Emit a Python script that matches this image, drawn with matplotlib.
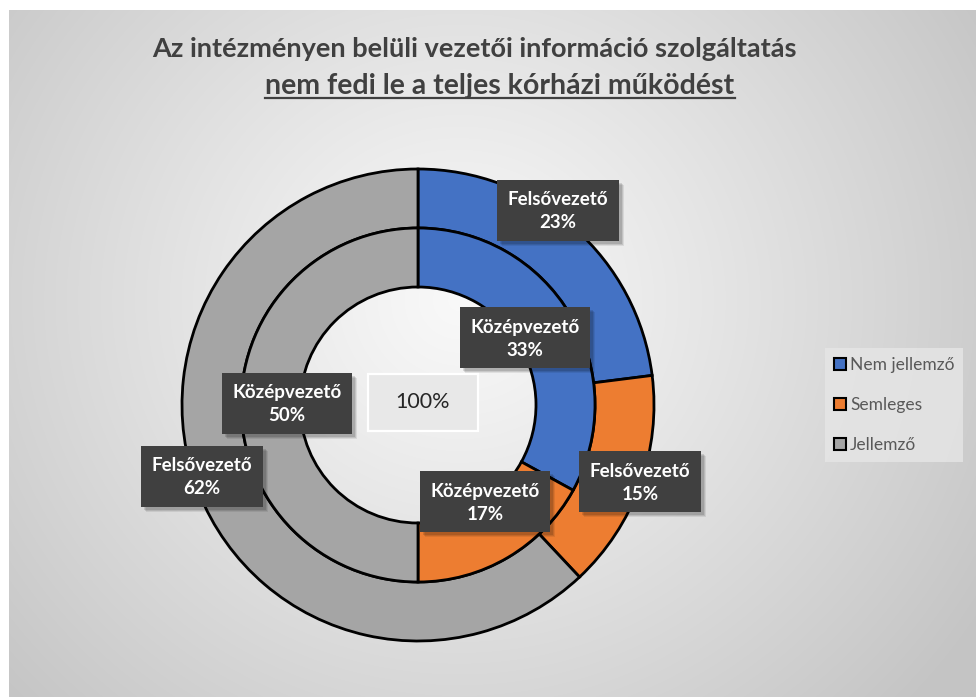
import numpy as np
import matplotlib
matplotlib.use("Agg")
import matplotlib.pyplot as plt
from matplotlib.patches import Patch, Rectangle

# ---- data ----
categories = ["Nem jellemző", "Semleges", "Jellemző"]
felso_values = [23, 15, 62]      # outer ring (Felsővezető)
kozep_values = [33, 17, 50]      # inner ring (Középvezető)
outer_name = "Felsővezető"
inner_name = "Középvezető"
center_label = "100%"
title_line1 = "Az intézményen belüli vezetői információ szolgáltatás"
title_line2 = "nem fedi le a teljes kórházi működést"

colors = ["#4472C4", "#ED7D31", "#A5A5A5"]
FONT = "Lato"

W, H = 976, 697
fig = plt.figure(figsize=(W / 100, H / 100), dpi=100)
fig.patch.set_facecolor("white")

# ---- background panel with radial gradient ----
bg = fig.add_axes([9 / W, 0, 1 - 9 / W, 1 - 10 / H])
bg.set_axis_off()
yy, xx = np.mgrid[0:H - 10, 0:W - 9]
d = np.hypot(xx - 450, (yy - 290) * 1.05)
t = np.clip(d / 620, 0, 1) ** 1.1
light, dark = 0.975, 0.77
img = light - (light - dark) * t
bg.imshow(np.dstack([img, img, img]), aspect="auto", interpolation="bilinear")
bg.set_zorder(0)

# ---- donut axes: centre at (418,405)px, outer radius 236px ----
R = 236.0
half = 260.0
cx, cy = 418, 405
ax = fig.add_axes([(cx - half) / W, (H - cy - half) / H, 2 * half / W, 2 * half / H])
ax.set_axis_off()
ax.set_zorder(1)
ax.patch.set_alpha(0)

wp = dict(width=0.25, edgecolor="black", linewidth=2.0)
ax.pie(felso_values, radius=1.0, colors=colors, startangle=90, counterclock=False,
       wedgeprops=wp)
ax.pie(kozep_values, radius=0.75, colors=colors, startangle=90, counterclock=False,
       wedgeprops=wp)
ax.set_xlim(-half / R, half / R)
ax.set_ylim(-half / R, half / R)
ax.set_aspect("equal")

# label positions (layout, in units of outer radius)
outer_pos = [(0.593, 0.826), (0.941, -0.326), (-0.915, -0.301)]
inner_pos = [(0.453, 0.284), (0.284, -0.411), (-0.555, 0.008)]
px = 1.0 / R

def box_label(x, y, txt, wpx):
    w, h = wpx * px, 61 * px
    for k, a in ((5, 0.08), (4, 0.1), (3, 0.12)):
        ax.add_patch(Rectangle((x - w / 2 + k * px, y - h / 2 - k * px), w, h,
                               facecolor=(0, 0, 0, a), edgecolor="none", zorder=4,
                               clip_on=False))
    ax.add_patch(Rectangle((x - w / 2, y - h / 2), w, h,
                           facecolor="#404040", edgecolor="none", zorder=5,
                           clip_on=False))
    ax.text(x, y - 1 * px, txt, ha="center", va="center", fontsize=13.5,
            fontweight="bold", family=FONT, color="white", linespacing=1.45,
            zorder=6)

for (x, y), v in zip(outer_pos, felso_values):
    box_label(x, y, f"{outer_name}\n{v}%", 122)
for (x, y), v in zip(inner_pos, kozep_values):
    box_label(x, y, f"{inner_name}\n{v}%", 130)

# centre total box
bw, bh = 110 * px, 57 * px
bx, by = 0.021, 0.011
ax.add_patch(Rectangle((bx - bw / 2, by - bh / 2), bw, bh, facecolor="#e8e8e8",
                       edgecolor="white", linewidth=1.6, zorder=5))
ax.text(bx, by, center_label, ha="center", va="center", fontsize=15.5,
        family=FONT, color="#262626", zorder=6)

# ---- title ----
t1 = fig.text(474 / W, 1 - 49 / H, title_line1, ha="center", va="center",
              fontsize=19.5, fontweight="bold", family=FONT, color="#404040")
t2 = fig.text(500 / W, 1 - 86 / H, title_line2, ha="center", va="center",
              fontsize=20.5, fontweight="bold", family=FONT, color="#404040")
fig.canvas.draw()
bb = t2.get_window_extent()
fig.add_artist(plt.Line2D([bb.x0 / W, bb.x1 / W], [(bb.y0 + 1) / H, (bb.y0 + 1) / H],
                          transform=fig.transFigure, color="#404040", linewidth=1.6))

# ---- legend ----
handles = [Patch(facecolor=c, edgecolor="black", linewidth=1.5) for c in colors]
leg = fig.legend(handles, categories, loc="center left",
                 bbox_to_anchor=(825 / W, 1 - 405 / H), frameon=True,
                 prop=dict(family=FONT, size=12.5), labelcolor="#595959",
                 handlelength=0.7, handleheight=0.7, handletextpad=0.25,
                 labelspacing=1.4, borderpad=0.5, borderaxespad=0, fancybox=False)
leg.get_frame().set_facecolor("#e6e6e6")
leg.get_frame().set_edgecolor("none")

fig.savefig("out.png", dpi=100)
